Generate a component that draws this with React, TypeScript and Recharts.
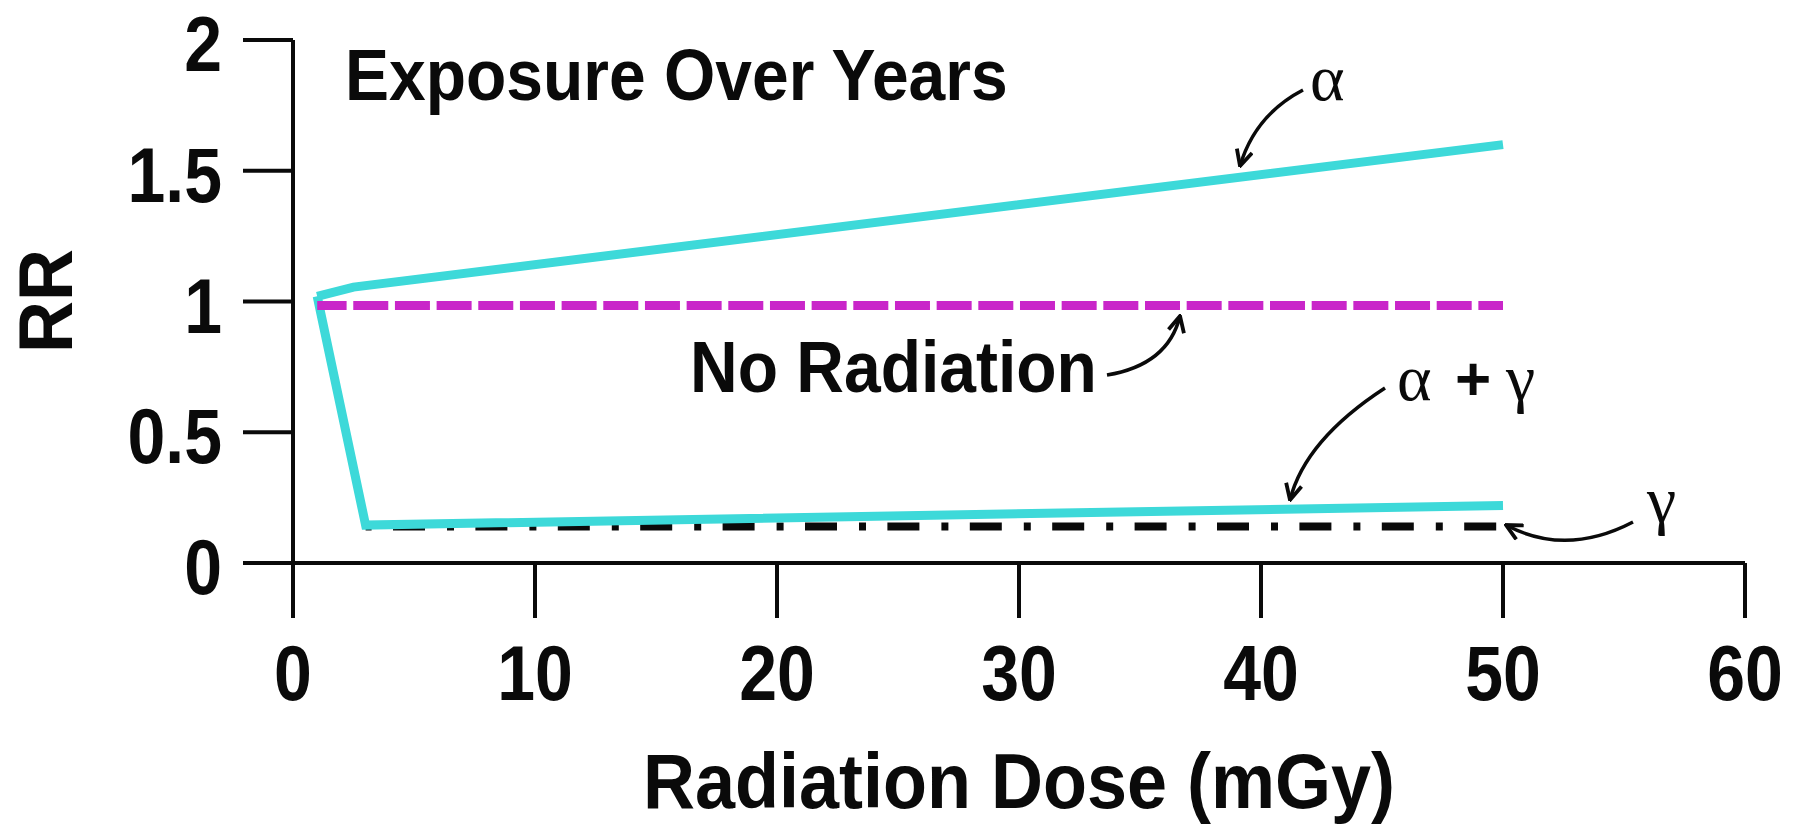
import React from "react";
import { LineChart, Line, XAxis, YAxis, Customized } from "recharts";

// ---- data ----
const doseAlpha = [1, 2.5, 50];
const rrAlpha = [1.02, 1.055, 1.6];

const doseAlphaGamma = [1, 3, 50];
const rrAlphaGamma = [1.02, 0.145, 0.22];

const doseGamma = [3, 50];
const rrGamma = [0.14, 0.14];

const doseNoRadiation = [1, 50];
const rrNoRadiation = [0.985, 0.985];

const xTicks = [0, 10, 20, 30, 40, 50, 60];
const yTicks = [0, 0.5, 1, 1.5, 2];

const toPoints = (xs: number[], ys: number[]) => xs.map((x, i) => ({ x, y: ys[i] }));
const alphaData = toPoints(doseAlpha, rrAlpha);
const alphaGammaData = toPoints(doseAlphaGamma, rrAlphaGamma);
const gammaData = toPoints(doseGamma, rrGamma);
const noRadData = toPoints(doseNoRadiation, rrNoRadiation);

const W = 1801;
const H = 825;
const SANS = "'Liberation Sans', Arial, Helvetica, sans-serif";
const SERIF = "'Liberation Serif', 'Times New Roman', serif";
const CYAN = "#3dd9d9";
const MAGENTA = "#c926c9";
const INK = "#0a0a0a";

const XTick = (props: any) => {
  const { x, y, payload } = props;
  return (
    <text
      transform={`translate(${x},${y + 82}) scale(1,1.15)`}
      textAnchor="middle"
      fontFamily={SANS}
      fontWeight={700}
      fontSize={68}
      fill={INK}
    >
      {String(payload.value)}
    </text>
  );
};

const YTick = (props: any) => {
  const { x, y, payload } = props;
  return (
    <text
      transform={`translate(${x},${y + 31}) scale(1,1.15)`}
      textAnchor="end"
      fontFamily={SANS}
      fontWeight={700}
      fontSize={68}
      fill={INK}
    >
      {String(payload.value)}
    </text>
  );
};

const Annotations = () => (
  <g>
    <defs>
      <marker
        id="chev"
        viewBox="0 0 12 12"
        refX="11"
        refY="6"
        markerWidth="19"
        markerHeight="19"
        markerUnits="userSpaceOnUse"
        orient="auto"
      >
        <path d="M1,1 L11,6 L1,11" fill="none" stroke={INK} strokeWidth={2.4} />
      </marker>
    </defs>
    {/* title */}
    <text
      transform="translate(345,100) scale(1,1.1)"
      fontFamily={SANS}
      fontWeight={700}
      fontSize={66}
      fill={INK}
    >
      Exposure Over Years
    </text>
    {/* No Radiation */}
    <text
      transform="translate(690,392) scale(1,1.1)"
      fontFamily={SANS}
      fontWeight={700}
      fontSize={66}
      fill={INK}
    >
      No Radiation
    </text>
    <path d="M1107,375 Q1168,365 1180,316" fill="none" stroke={INK} strokeWidth={3.5} markerEnd="url(#chev)" />
    {/* alpha */}
    <text x={1310} y={100} fontFamily={SERIF} fontSize={66} fill={INK}>α</text>
    <path d="M1303,90 Q1255,115 1240,166" fill="none" stroke={INK} strokeWidth={3.5} markerEnd="url(#chev)" />
    {/* alpha + gamma */}
    <text x={1397} y={400} fontFamily={SERIF} fontSize={66} fill={INK}>α</text>
    <text x={1455} y={400} fontFamily={SANS} fontWeight={700} fontSize={62} fill={INK}>+</text>
    <text x={1506} y={400} fontFamily={SERIF} fontSize={66} fill={INK}>γ</text>
    <path d="M1385,388 Q1305,440 1290,500" fill="none" stroke={INK} strokeWidth={3.5} markerEnd="url(#chev)" />
    {/* gamma */}
    <text x={1647} y={522} fontFamily={SERIF} fontSize={66} fill={INK}>γ</text>
    <path d="M1633,522 Q1566,557 1506,525" fill="none" stroke={INK} strokeWidth={3.5} markerEnd="url(#chev)" />
    {/* axis titles */}
    <text
      transform="translate(1019,808) scale(1,1.08)"
      textAnchor="middle"
      fontFamily={SANS}
      fontWeight={700}
      fontSize={72}
      fill={INK}
    >
      Radiation Dose (mGy)
    </text>
    <text
      transform="translate(72,301) rotate(-90) scale(1,1.05)"
      textAnchor="middle"
      fontFamily={SANS}
      fontWeight={700}
      fontSize={72}
      fill={INK}
    >
      RR
    </text>
  </g>
);

export default function App() {
  return (
    <div style={{ position: "absolute", left: 0, top: 0, width: W, height: H, background: "#fff" }}>
      <LineChart width={W} height={H} margin={{ top: 40, right: 56, bottom: 0, left: 0 }}>
        <XAxis
          dataKey="x"
          type="number"
          domain={[0, 60]}
          ticks={xTicks}
          interval={0}
          height={262}
          tickSize={55}
          tickMargin={0}
          axisLine={{ stroke: INK, strokeWidth: 4 }}
          tickLine={{ stroke: INK, strokeWidth: 4 }}
          tick={<XTick />}
          allowDataOverflow
        />
        <YAxis
          type="number"
          domain={[0, 2]}
          ticks={yTicks}
          interval={0}
          width={293}
          tickSize={50}
          tickMargin={21}
          axisLine={{ stroke: INK, strokeWidth: 4 }}
          tickLine={{ stroke: INK, strokeWidth: 4 }}
          tick={<YTick />}
          allowDataOverflow
        />
        <Line
          data={gammaData}
          dataKey="y"
          type="linear"
          stroke={INK}
          strokeWidth={8}
          strokeDasharray="32 22 7 21.4"
          strokeDashoffset={55}
          dot={false}
          activeDot={false}
          isAnimationActive={false}
        />
        <Line
          data={alphaGammaData}
          dataKey="y"
          type="linear"
          stroke={CYAN}
          strokeWidth={9}
          dot={false}
          activeDot={false}
          isAnimationActive={false}
        />
        <Line
          data={alphaData}
          dataKey="y"
          type="linear"
          stroke={CYAN}
          strokeWidth={9}
          dot={false}
          activeDot={false}
          isAnimationActive={false}
        />
        <Line
          data={noRadData}
          dataKey="y"
          type="linear"
          stroke={MAGENTA}
          strokeWidth={9}
          strokeDasharray="35 6.67"
          strokeDashoffset={5.6}
          dot={false}
          activeDot={false}
          isAnimationActive={false}
        />
        <Customized component={Annotations} />
      </LineChart>
    </div>
  );
}
